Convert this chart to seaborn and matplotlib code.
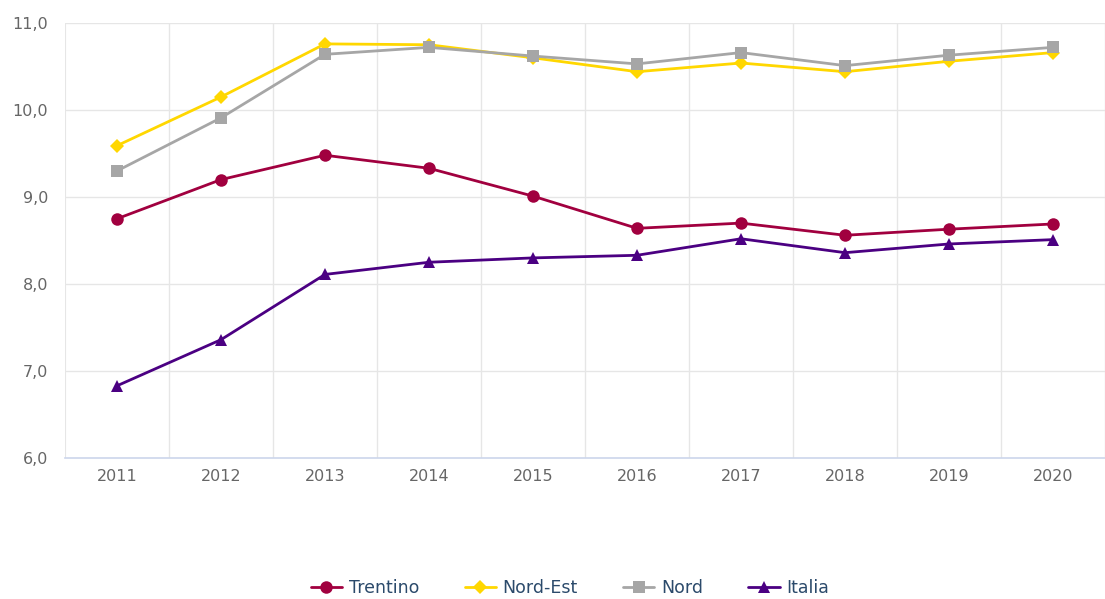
import pandas as pd
import matplotlib.pyplot as plt
import seaborn as sns

# dati
anni = [2011, 2012, 2013, 2014, 2015, 2016, 2017, 2018, 2019, 2020]
serie = ["Trentino", "Nord-Est", "Nord", "Italia"]
trentino = [8.75, 9.20, 9.48, 9.33, 9.01, 8.64, 8.70, 8.56, 8.63, 8.69]
nord_est = [9.59, 10.15, 10.76, 10.75, 10.60, 10.44, 10.54, 10.44, 10.56, 10.66]
nord = [9.30, 9.91, 10.64, 10.72, 10.62, 10.53, 10.66, 10.51, 10.63, 10.72]
italia = [6.83, 7.36, 8.11, 8.25, 8.30, 8.33, 8.52, 8.36, 8.46, 8.51]
y_ticks = [6.0, 7.0, 8.0, 9.0, 10.0, 11.0]

colori = {"Trentino": "#a1003f", "Nord-Est": "#ffd700", "Nord": "#a6a6a6", "Italia": "#4b0082"}
marker = {"Trentino": "o", "Nord-Est": "D", "Nord": "s", "Italia": "^"}
msize = {"Trentino": 9, "Nord-Est": 7, "Nord": 9, "Italia": 9}

df = pd.DataFrame({
    "pos": list(range(len(anni))) * 4,
    "valore": trentino + nord_est + nord + italia,
    "serie": [s for s in serie for _ in anni],
})

sns.set_theme(style="white")
plt.rcParams['font.family'] = ['DejaVu Sans']

fig = plt.figure(figsize=(11.05, 5.99), dpi=100)
ax = fig.add_axes([65 / 1105, 1 - 458 / 599, 1 - 65 / 1105, (458 - 23) / 599])

sns.lineplot(data=df, x="pos", y="valore", hue="serie", style="serie",
             palette=colori, markers=marker, dashes=False, hue_order=serie,
             style_order=serie, linewidth=2.0, markersize=9, markeredgewidth=0,
             ax=ax, legend=False, zorder=3)
# diamanti un po' più piccoli
for line, s in zip(ax.get_lines(), serie):
    line.set_markersize(msize[s])

ax.set_xlim(-0.5, (1105 - 65) / 105 - 0.5)
ax.set_ylim(6.0, 11.0)
ax.set_yticks(y_ticks)
ax.set_yticklabels([f"{v:.1f}".replace(".", ",") for v in y_ticks])
ax.set_xticks(range(len(anni)))
ax.set_xticklabels([str(a) for a in anni])
ax.set_xticks([i + 0.5 for i in range(-1, len(anni))], minor=True)
ax.set_xlabel("")
ax.set_ylabel("")

# griglia
ax.grid(False)
for v in y_ticks[1:]:
    ax.axhline(v, color="#e6e6e6", lw=1, zorder=0)
for i in range(len(anni)):
    ax.axvline(i + 0.5, color="#e6e6e6", lw=1, zorder=0)
ax.axvline(-0.5, color="#e6e6e6", lw=1.5, zorder=0)

for s in ["top", "right", "left"]:
    ax.spines[s].set_visible(False)
ax.spines["bottom"].set_color("#ccd6eb")
ax.spines["bottom"].set_linewidth(1.2)

ax.tick_params(axis="x", which="major", length=0, pad=8, labelsize=11.5, labelcolor="#666666")
ax.tick_params(axis="x", which="minor", length=7, width=1, color="#ccd6eb", direction="out")
ax.tick_params(axis="y", length=0, pad=12, labelsize=11.5, labelcolor="#666666")

# legenda
handles = [plt.Line2D([], [], color=colori[s], marker=marker[s], lw=2, markersize=msize[s],
                      markeredgewidth=0) for s in serie]
leg = fig.legend(handles, serie, loc="center", bbox_to_anchor=(0.516, 1 - 588 / 599),
                 ncol=4, frameon=False, fontsize=12.5, handlelength=1.8,
                 columnspacing=2.6, handletextpad=0.4)
for t in leg.get_texts():
    t.set_color("#2b4a6b")

fig.savefig("out.png", dpi=100)
